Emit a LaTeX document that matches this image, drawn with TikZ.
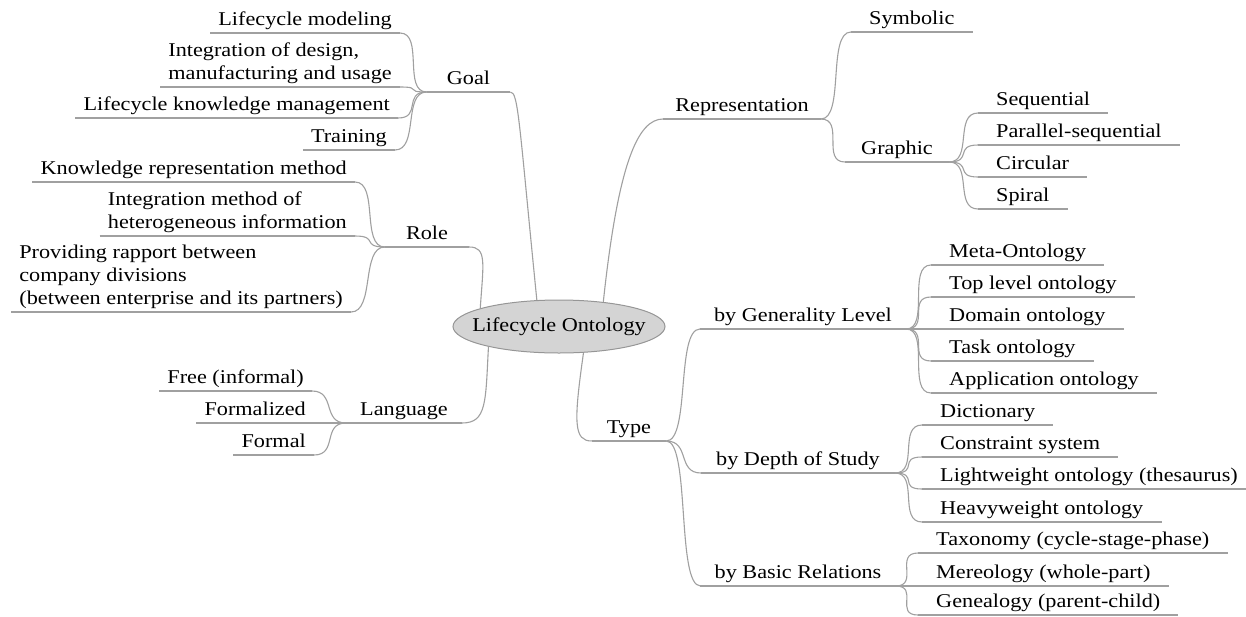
\documentclass[tikz,border=0pt]{standalone}
\usepackage{fontspec}
\setmainfont{LiberationSerif-Regular.ttf}[FakeStretch=1.14]
\usetikzlibrary{shapes.geometric}
\definecolor{linegray}{RGB}{160,160,160}
\definecolor{ellfill}{RGB}{212,212,212}
\definecolor{ellline}{RGB}{150,150,150}
\tikzset{
  mapfont/.style={font=\fontsize{19.5}{23}\selectfont},
  topic/.style={mapfont, inner ysep=2pt, text depth=5pt, align=left},
  lleaf/.style={topic, anchor=south east, inner xsep=8pt},
  rleaf/.style={topic, anchor=south west, inner xsep=18pt},
  branch/.style={topic, anchor=south},
  conn/.style={draw=linegray, line width=1.1pt},
  rlink/.style={to path={.. controls +(24,0) and +(-24,0) .. (\tikztotarget)}},
  llink/.style={to path={.. controls +(-24,0) and +(24,0) .. (\tikztotarget)}},
}
\begin{document}
\begin{tikzpicture}[x=1pt,y=-1pt]
\useasboundingbox (0,0) rectangle (1246,616);

% centre
\node[ellipse, fill=ellfill, draw=ellline, line width=1pt, minimum width=212pt,
      minimum height=53pt, inner sep=0pt,
      label={[mapfont]center:Lifecycle Ontology}] (lo) at (559,326.5) {};

% left side
\node[branch, inner xsep=20pt] (goal) at (468.5,92) {Goal};
\node[lleaf] (lm) at (400,33) {Lifecycle modeling};
\node[lleaf] (idm) at (400,87) {Integration of design,\\manufacturing and usage};
\node[lleaf] (lkm) at (398,118) {Lifecycle knowledge management};
\node[lleaf] (tr) at (395,150) {Training};

\node[branch, inner xsep=21pt] (role) at (427,247) {Role};
\node[lleaf] (krm) at (355,182) {Knowledge representation method};
\node[lleaf] (imh) at (355,236) {Integration method of\\heterogeneous information};
\node[lleaf] (prb) at (351,312) {Providing rapport between\\company divisions\\(between enterprise and its partners)};

\node[branch, inner xsep=14pt] (lang) at (404,423) {Language};
\node[lleaf] (fi) at (312,391) {Free (informal)};
\node[lleaf] (fz) at (314,423) {Formalized};
\node[lleaf] (fo) at (314,455) {Formal};

% right side
\node[branch, inner xsep=12pt] (rep) at (742,119) {Representation};
\node[rleaf] (sym) at (851,32) {Symbolic};
\node[branch, inner xsep=16pt] (gra) at (897,162) {Graphic};
\node[rleaf] (seq) at (978,113) {Sequential};
\node[rleaf] (par) at (978,145) {Parallel-sequential};
\node[rleaf] (cir) at (978,177) {Circular};
\node[rleaf] (spi) at (978,209) {Spiral};

\node[branch, inner xsep=15pt] (type) at (629,441) {Type};
\node[branch, inner xsep=14pt] (gen) at (803,329) {by Generality Level};
\node[rleaf] (meta) at (931,265) {Meta-Ontology};
\node[rleaf] (top) at (931,297) {Top level ontology};
\node[rleaf] (dom) at (931,329) {Domain ontology};
\node[rleaf] (task) at (931,361) {Task ontology};
\node[rleaf] (app) at (931,393) {Application ontology};

\node[branch, inner xsep=15pt] (dep) at (798,473) {by Depth of Study};
\node[rleaf] (dic) at (922,425) {Dictionary};
\node[rleaf] (con) at (922,457) {Constraint system};
\node[rleaf] (lig) at (922,489) {Lightweight ontology (thesaurus)};
\node[rleaf] (hea) at (922,522) {Heavyweight ontology};

\node[branch, inner xsep=14pt] (bas) at (798,586) {by Basic Relations};
\node[rleaf] (tax) at (918,553) {Taxonomy (cycle-stage-phase)};
\node[rleaf] (mer) at (918,586) {Mereology (whole-part)};
\node[rleaf] (gnl) at (918,615) {Genealogy (parent-child)};

% underlines
\foreach \n in {goal,lm,idm,lkm,tr,role,krm,imh,prb,lang,fi,fz,fo,
                rep,sym,gra,seq,par,cir,spi,type,gen,meta,top,dom,task,app,
                dep,dic,con,lig,hea,bas,tax,mer,gnl}
  \draw[conn] (\n.south west) -- (\n.south east);

% main branches
\draw[conn] (lo.130) .. controls +(-18,-180) and +(8,0) .. (goal.south east);
\draw[conn] (lo.167) .. controls +(3,-45) and +(18,0) .. (role.south east);
\draw[conn] (lo.196) .. controls +(-3,55) and +(25,0) .. (lang.south east);
\draw[conn] (lo.29) .. controls +(15,-140) and +(-25,0) .. (rep.south west);
\draw[conn] (lo.313) .. controls +(-10,70) and +(-18,0) .. (type.south west);

% sub branches
\foreach \c in {lm,idm,lkm,tr} \draw[conn] (goal.south west) to[llink] (\c.south east);
\foreach \c in {krm,imh,prb} \draw[conn] (role.south west) to[llink] (\c.south east);
\foreach \c in {fi,fz,fo} \draw[conn] (lang.south west) to[llink] (\c.south east);
\foreach \c in {sym,gra} \draw[conn] (rep.south east) to[rlink] (\c.south west);
\foreach \c in {seq,par,cir,spi} \draw[conn] (gra.south east) to[rlink] (\c.south west);
\foreach \c in {gen,dep,bas} \draw[conn] (type.south east) to[rlink] (\c.south west);
\foreach \c in {meta,top,dom,task,app} \draw[conn] (gen.south east) to[rlink] (\c.south west);
\foreach \c in {dic,con,lig,hea} \draw[conn] (dep.south east) to[rlink] (\c.south west);
\foreach \c in {tax,mer,gnl} \draw[conn] (bas.south east) to[rlink] (\c.south west);
\end{tikzpicture}
\end{document}
